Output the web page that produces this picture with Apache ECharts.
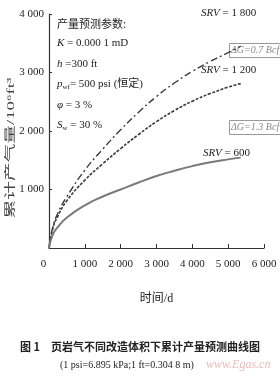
<!DOCTYPE html>
<html><head><meta charset="utf-8">
<script src="https://cdn.jsdelivr.net/npm/echarts@6/dist/echarts.min.js"></script>
<style>html,body{margin:0;padding:0;background:#fff;}#c{width:280px;height:380px;}</style>
</head><body><div id="c"></div>
<script>
const days = [0, 100, 250, 500, 1000, 1500, 2000, 2500, 3000, 3500, 4000, 4500, 5000, 5350];
const srv1800 = [0, 340, 600, 880, 1330, 1690, 2020, 2320, 2590, 2820, 3020, 3190, 3340, 3450];
const srv1200 = [0, 320, 550, 810, 1160, 1440, 1700, 1940, 2160, 2350, 2510, 2640, 2750, 2810];
const srv600  = [0, 220, 360, 520, 730, 880, 1000, 1120, 1230, 1320, 1400, 1465, 1515, 1545];
const seriesNames = ['SRV = 1 800', 'SRV = 1 200', 'SRV = 600'];
const xTicks = [0, 1000, 2000, 3000, 4000, 5000, 6000];
const yTicks = [0, 1000, 2000, 3000, 4000];
const xTickLabels = ['0', '1 000', '2 000', '3 000', '4 000', '5 000', '6 000'];
const yTickLabels = ['', '1 000', '2 000', '3 000', '4 000'];
const yAxisTitle = '累计产气量/10⁶ft³';
const xAxisTitle = '时间/d';

const serif = '"Liberation Serif","Noto Sans CJK SC",serif';
const pair = arr => days.map((d, i) => [d, arr[i]]);
const chart = echarts.init(document.getElementById('c'), null, {renderer: 'canvas'});

const txt = (x, y, rich, text, extra) => Object.assign({
  type: 'text', left: x, top: y,
  style: {text: text, rich: rich, font: '11px ' + serif, fill: '#222'}
}, extra || {});
const baseRich = {
  i: {fontStyle: 'italic', fontFamily: serif, fontSize: 11, color: '#222'},
  s: {fontFamily: serif, fontSize: 7, color: '#222', verticalAlign: 'bottom', padding: [6, 0, 0, 0]},
  n: {fontFamily: serif, fontSize: 11, color: '#222'}
};

chart.setOption({
  animation: false,
  grid: {left: 49, right: 16, top: 14, bottom: 132},
  xAxis: {
    type: 'value', min: xTicks[0], max: xTicks[xTicks.length - 1], interval: 1000,
    axisLine: {show: true, lineStyle: {color: '#333', width: 1.2}},
    axisTick: {show: true, inside: true, length: 4, lineStyle: {color: '#333'}},
    splitLine: {show: false},
    axisLabel: {
      margin: 11, color: '#222', fontFamily: serif, fontSize: 11,
      formatter: v => {
        const k = xTicks.indexOf(v);
        return v === 0 ? '{z|' + xTickLabels[k] + '}' : xTickLabels[k];
      },
      rich: {z: {fontFamily: serif, fontSize: 11, color: '#222', padding: [0, 11, 0, 0]}}
    },
    name: xAxisTitle, nameLocation: 'middle', nameGap: 45,
    nameTextStyle: {fontFamily: serif, fontSize: 12, color: '#222'}
  },
  yAxis: {
    type: 'value', min: yTicks[0], max: yTicks[yTicks.length - 1], interval: 1000,
    axisLine: {show: true, lineStyle: {color: '#333', width: 1.2}},
    axisTick: {show: true, inside: true, length: 3, lineStyle: {color: '#333'}},
    splitLine: {show: false},
    axisLabel: {
      margin: 5, color: '#222', fontFamily: serif, fontSize: 11,
      formatter: v => yTickLabels[yTicks.indexOf(v)]
    }
  },
  series: [
    {name: seriesNames[0], type: 'line', smooth: 0.5, showSymbol: false, data: pair(srv1800),
     lineStyle: {color: '#3a3a3a', width: 1.4, type: [7, 3, 2, 3]}},
    {name: seriesNames[1], type: 'line', smooth: 0.5, showSymbol: false, data: pair(srv1200),
     lineStyle: {color: '#3a3a3a', width: 1.6, type: [3, 1.5]}},
    {name: seriesNames[2], type: 'line', smooth: 0.5, showSymbol: false, data: pair(srv600),
     lineStyle: {color: '#7a7a7a', width: 2, type: 'solid'}}
  ],
  graphic: [
    {type: 'text', x: 11, y: 148, rotation: Math.PI / 2, scaleX: 1.7,
     style: {text: yAxisTitle, font: '11px ' + serif, fill: '#444', align: 'center', verticalAlign: 'middle'}},
    txt(57, 18, null, '产量预测参数:', {style: {text: '产量预测参数:', font: '11px "Noto Sans CJK SC",sans-serif', fill: '#222'}}),
    txt(57, 38, baseRich, '{i|K}{n| = 0.000 1 mD}'),
    txt(57, 59, baseRich, '{i|h}{n| =300 ft}'),
    txt(57, 79, baseRich, '{i|p}{s|wf}{n|= 500 psi (恒定)}'),
    txt(57, 100, baseRich, '{i|φ}{n| = 3 %}'),
    txt(57, 120, baseRich, '{i|S}{s|w}{n| = 30 %}'),
    txt(201, 8, baseRich, '{i|SRV}{n| = 1 800}'),
    {type: 'rect', left: 229, top: 43, shape: {width: 52, height: 14}, style: {fill: '#fff', stroke: '#999', lineWidth: 1}},
    {type: 'text', left: 231, top: 45, style: {text: 'ΔG=0.7 Bcf', font: 'italic 10px ' + serif, fill: '#888'}},
    txt(201, 65, baseRich, '{i|SRV}{n| = 1 200}'),
    {type: 'rect', left: 229, top: 120, shape: {width: 52, height: 14}, style: {fill: '#fff', stroke: '#999', lineWidth: 1}},
    {type: 'text', left: 231, top: 122, style: {text: 'ΔG=1.3 Bcf', font: 'italic 10px ' + serif, fill: '#888'}},
    txt(203, 148, baseRich, '{i|SRV}{n| = 600}'),
    {type: 'text', left: 'center', top: 341, style: {text: '图 1　页岩气不同改造体积下累计产量预测曲线图', font: 'bold 11px "Noto Sans CJK SC",sans-serif', fill: '#222'}},
    {type: 'text', left: 60, top: 360, style: {text: '(1 psi=6.895 kPa;1 ft=0.304 8 m)', font: '10px ' + serif, fill: '#222'}},
    {type: 'text', left: 206, top: 359, style: {text: 'www.Egas.cn', font: 'italic 12px ' + serif, fill: '#e6a8a8', opacity: 0.8}}
  ]
});
</script></body></html>
